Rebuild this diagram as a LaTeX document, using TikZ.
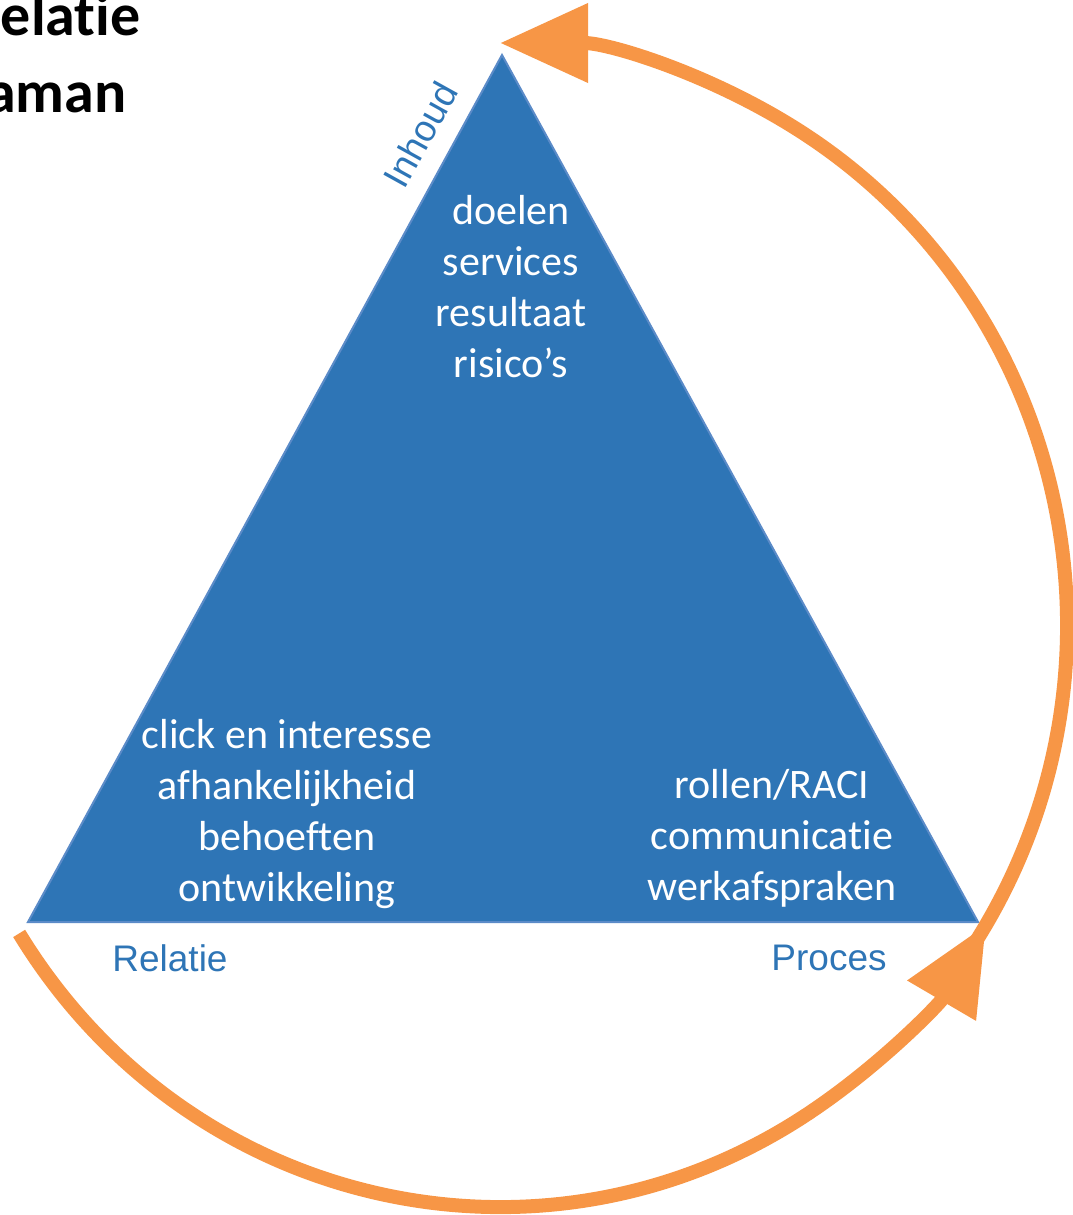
\documentclass[tikz,border=0pt]{standalone}
\usepackage{fontspec}
\setmainfont{Carlito}[Ligatures=NoCommon]
\newfontfamily\labelfont{Liberation Sans}
\usetikzlibrary{arrows.meta}
\definecolor{triblue}{HTML}{2E75B6}
\definecolor{triedge}{HTML}{5B8BC8}
\definecolor{cycleorange}{HTML}{F79646}

\begin{document}
\begin{tikzpicture}[x=0.5pt, y=-0.5pt,
    every node/.style={inner sep=0pt, align=center},
    inside/.style={text=white, font=\fontsize{21}{25.5}\selectfont},
    corner/.style={text=triblue, font=\labelfont\fontsize{18.5}{22}\selectfont},
    heading/.style={anchor=base east, font=\bfseries\fontsize{30}{36}\selectfont},
    cycle arrow/.style={draw=cycleorange, line width=7pt,
      -{Triangle[length=44pt, width=38pt]}}]
\useasboundingbox (0,0) rectangle (1072,1215);

% title, cut off at the left edge
\node[heading] (title1) at (141,35) {elatie};
\node[heading] (title2) at (127,112) {aman};

% triangle
\coordinate (top) at (502,55);
\coordinate (left) at (28,922);
\coordinate (right) at (978,922);
\draw[fill=triblue, draw=triedge, line width=1pt] (top) -- (left) -- (right) -- cycle;

\node[inside] (doelen) at (511,287) {doelen\\services\\resultaat\\risico’s};
\node[inside] (click) at (287,814) {click en interesse\\afhankelijkheid\\behoeften\\ontwikkeling};
\node[inside] (rollen) at (772,838) {rollen/RACI\\communicatie\\werkafspraken};

\node[corner, rotate=61] (inhoud) at (420,135) {Inhoud};
\node[corner] (relatie) at (170,958) {Relatie};
\node[corner] (proces) at (829,958) {Proces};

% the cycle round the triangle
\coordinate (mid) at (500,625);
\draw[cycle arrow] (mid) ++(148:567 and 582)
  arc[start angle=148, end angle=31, x radius=567, y radius=582];
\draw[cycle arrow] (mid) ++(33:567 and 582)
  arc[start angle=33, end angle=-90, x radius=567, y radius=582];
\end{tikzpicture}
\end{document}
